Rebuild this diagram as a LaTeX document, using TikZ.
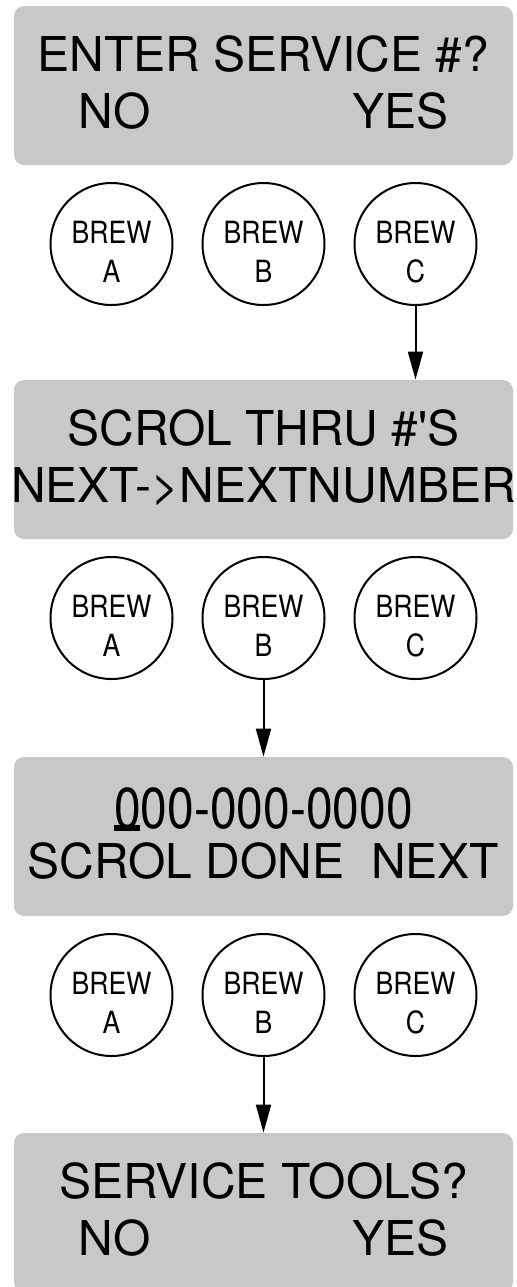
\documentclass[tikz,border=0pt]{standalone}
\usepackage{fontspec}
\setmainfont{TeX Gyre Heros}[Ligatures=TeXOff]
\usepackage{graphicx}
\usetikzlibrary{
    arrows.meta,
    positioning
}
\definecolor{LcdGray}{RGB}{199,200,202}
\tikzset{
  screen/.style = {fill=LcdGray, rounded corners=5pt, minimum width=249.5pt,
                   minimum height=79.5pt, inner sep=0pt, align=center,
                   font=\fontsize{24}{28.5}\selectfont},
  brew/.style   = {draw, circle, line width=1pt, minimum size=61pt,
                   inner sep=0pt, align=center,
                   font=\fontsize{15.3}{19.5}\selectfont},
  arr/.style    = {-{Triangle[length=14pt,width=7.5pt]}, line width=1pt}
}
\newcommand{\cond}[1]{\scalebox{0.87}[1]{#1}}
\newcommand{\brewkey}[1]{\rule{0pt}{19pt}\cond{BREW}\\\cond{#1}}
\newcommand{\cursor}[1]{\makebox[0pt][l]{\rule[-1pt]{0.54em}{2.6pt}}#1}
\newcommand{\lastline}{\rule[-3pt]{0pt}{0pt}}

\begin{document}
\begin{tikzpicture}[x=0.5pt, y=-0.5pt, node distance=8.3pt and 14pt]
\clip (0,0) rectangle (517,1287);

\node[screen] (s1) at (263.5,85.5)
    {ENTER SERVICE \#?\\\makebox[185pt]{NO\hfill YES}\lastline};
\node[brew, below=of s1] (b1) {\brewkey{B}};
\node[brew, left=of b1] (a1) {\brewkey{A}};
\node[brew, right=of b1] (c1) {\brewkey{C}};

\node[screen] (s2) at (263.5,459.5)
    {SCROL THRU \#'S\\\makebox[240pt]{NEXT->NEXTNUMBER}\lastline};
\node[brew, below=of s2] (b2) {\brewkey{B}};
\node[brew, left=of b2] (a2) {\brewkey{A}};
\node[brew, right=of b2] (c2) {\brewkey{C}};

\node[screen] (s3) at (263.5,836.5)
    {\scalebox{1}[1.2]{\cursor{0}00-000-0000}\\[-3.5pt]SCROL DONE\ \ NEXT\lastline};
\node[brew, below=of s3] (b3) {\brewkey{B}};
\node[brew, left=of b3] (a3) {\brewkey{A}};
\node[brew, right=of b3] (c3) {\brewkey{C}};

\node[screen] (s4) at (263.5,1212.5)
    {SERVICE TOOLS?\\\makebox[185pt]{NO\hfill YES}\lastline};

\draw[arr] (c1.south) -- (c1.south |- s2.north);
\draw[arr] (b2.south) -- (b2.south |- s3.north);
\draw[arr] (b3.south) -- (b3.south |- s4.north);
\end{tikzpicture}
\end{document}
